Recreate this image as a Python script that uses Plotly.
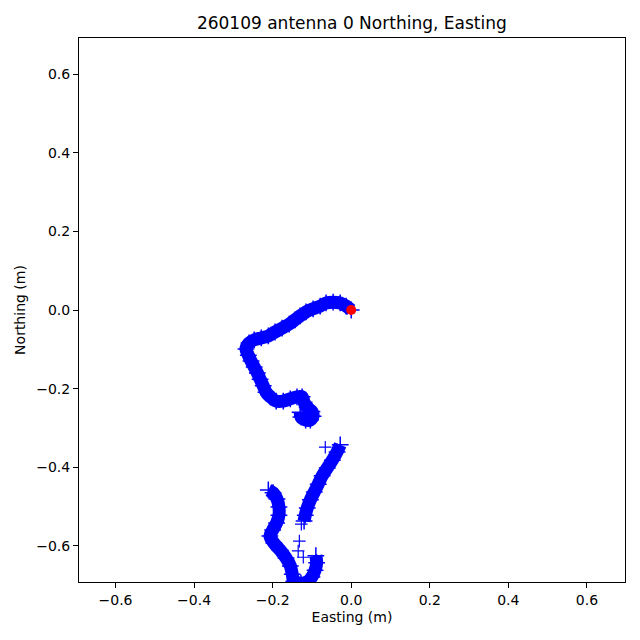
import plotly.graph_objects as go

# upper track (origin -> hook), metres
upper_e = [0.0, -0.013, -0.028, -0.046, -0.064, -0.079, -0.097, -0.115, -0.130, -0.143,
           -0.158, -0.176, -0.194, -0.211, -0.229, -0.247, -0.260, -0.268, -0.262, -0.255,
           -0.247, -0.239, -0.232, -0.224, -0.217, -0.206, -0.191, -0.173, -0.155, -0.138,
           -0.125, -0.120, -0.112, -0.100, -0.097, -0.104, -0.116, -0.128, -0.130]
upper_n = [0.0, 0.010, 0.018, 0.020, 0.018, 0.010, 0.003, -0.005, -0.015, -0.025,
           -0.036, -0.046, -0.056, -0.066, -0.071, -0.076, -0.084, -0.099, -0.115, -0.130,
           -0.145, -0.160, -0.176, -0.193, -0.209, -0.221, -0.232, -0.232, -0.226, -0.221,
           -0.221, -0.235, -0.248, -0.258, -0.270, -0.280, -0.280, -0.272, -0.260]

# lower track, right strand down
right_e = [-0.028, -0.036, -0.048, -0.061, -0.074, -0.084, -0.094, -0.104, -0.112, -0.117, -0.120]
right_n = [-0.343, -0.361, -0.382, -0.402, -0.422, -0.443, -0.463, -0.483, -0.504, -0.522, -0.537]

# lower track, bottom blob and left strand up
left_e = [-0.090, -0.088, -0.092, -0.100, -0.112, -0.128, -0.146, -0.150, -0.155, -0.166,
          -0.181, -0.197, -0.207, -0.200, -0.190, -0.184, -0.184, -0.189, -0.199, -0.211]
left_n = [-0.625, -0.643, -0.662, -0.679, -0.692, -0.695, -0.690, -0.672, -0.651, -0.631,
          -0.611, -0.593, -0.575, -0.560, -0.542, -0.522, -0.501, -0.481, -0.465, -0.458]

# scattered single fixes
lone_e = [-0.066, -0.127, -0.132, -0.135, -0.122]
lone_n = [-0.349, -0.545, -0.588, -0.613, -0.629]

blue = "#0000ff"
fig = go.Figure()

for e, n in [(upper_e, upper_n), (right_e, right_n), (left_e, left_n)]:
    fig.add_trace(go.Scatter(
        x=e, y=n, mode="lines+markers",
        line=dict(color=blue, width=13, shape="spline", smoothing=0.8),
        marker=dict(symbol="cross-thin", size=12, line=dict(color=blue, width=1.5)),
        hoverinfo="skip", showlegend=False))

fig.add_trace(go.Scatter(
    x=lone_e, y=lone_n, mode="markers",
    marker=dict(symbol="cross-thin", size=9, line=dict(color=blue, width=1.2)),
    showlegend=False))

fig.add_trace(go.Scatter(
    x=[0.0], y=[0.0], mode="markers",
    marker=dict(symbol="circle", size=10, color="#ff0000"),
    showlegend=False))

axis = dict(range=[-0.693, 0.697], tickvals=[-0.6, -0.4, -0.2, 0.0, 0.2, 0.4, 0.6],
            ticktext=["\u22120.6", "\u22120.4", "\u22120.2", "0.0", "0.2", "0.4", "0.6"],
            showgrid=False, zeroline=False, showline=True, linecolor="black", linewidth=1,
            mirror=True, ticks="outside", ticklen=5, tickcolor="black",
            tickfont=dict(size=14, color="black"))

# page body has an 8px margin, so the figure is 624 wide and margins are shifted
fig.update_layout(
    width=624, height=624,
    margin=dict(l=71, r=7, t=30, b=50),
    paper_bgcolor="white", plot_bgcolor="white",
    font=dict(family="DejaVu Sans", color="black"),
    title=dict(text="260109 antenna 0 Northing, Easting", x=0.551, xanchor="center",
               y=1 - 15 / 624, yanchor="middle", font=dict(size=17)),
    xaxis=dict(axis, title=dict(text="Easting (m)", font=dict(size=14), standoff=5)),
    yaxis=dict(axis, range=[-0.692, 0.692],
               title=dict(text="Northing (m)", font=dict(size=14), standoff=7)),
)

fig.write_html("out.html")
